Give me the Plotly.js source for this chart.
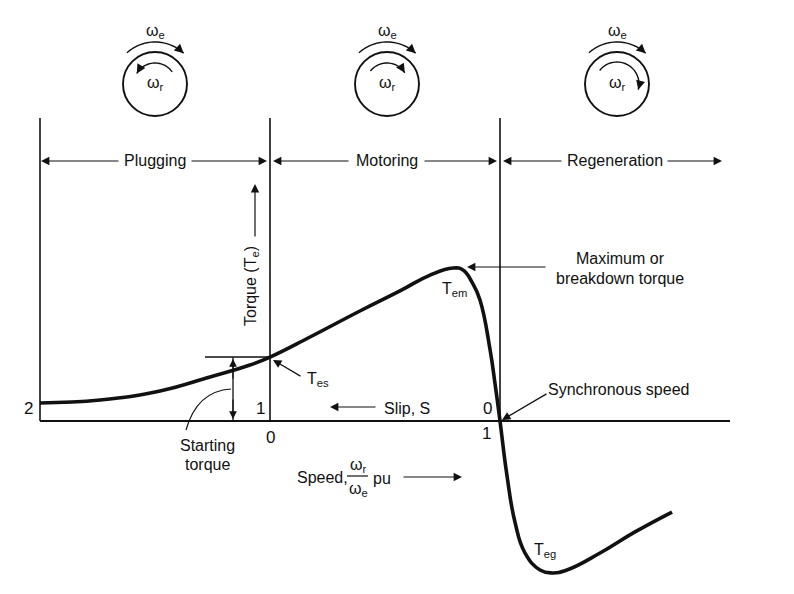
<!DOCTYPE html>
<html><head><meta charset="utf-8">
<script src="https://cdn.plot.ly/plotly-3.0.1.min.js"></script>
<style>html,body{margin:0;padding:0;background:#fff}</style>
</head><body><div id="chart" style="width:794px;height:594px"></div>
<script>
// ---- data (speed in pu, torque normalised to breakdown torque) ----
const speedPu  = [-1.0, -0.739, -0.478, -0.261, -0.087, 0.0, 0.174, 0.391, 0.565, 0.696, 0.796, 0.839, 0.878, 0.913, 0.957, 0.978, 1.0, 1.030, 1.065, 1.109, 1.174, 1.226, 1.291, 1.435, 1.587, 1.748];
const torquePu = [0.118, 0.137, 0.196, 0.288, 0.366, 0.418, 0.549, 0.719, 0.850, 0.954, 1.000, 0.987, 0.908, 0.791, 0.464, 0.248, 0.0, -0.353, -0.660, -0.863, -0.974, -0.993, -0.974, -0.863, -0.725, -0.595];
const slipTickSpeeds  = [-1, 0, 1];
const slipTickLabels  = ['2', '1', '0'];
const speedTickSpeeds = [0, 1];
const speedTickLabels = ['0', '1'];
const regionNames = ['Plugging', 'Motoring', 'Regeneration'];

// pixel -> data helpers for decorations
const X = px => (px - 270) / 230;
const Y = py => (421 - py) / 153;

const FONT = {family: 'Liberation Sans, Arial, sans-serif', size: 16, color: '#111'};
const INK = '#111';

const shapes = [];
const annotations = [];

function line(x0, y0, x1, y1, w) {
  shapes.push({type: 'line', xref: 'x', yref: 'y', x0: X(x0), y0: Y(y0), x1: X(x1), y1: Y(y1), line: {color: INK, width: w || 1.5}});
}
function arrow(hx, hy, tx, ty, opts) {
  annotations.push(Object.assign({x: X(hx), y: Y(hy), ax: X(tx), ay: Y(ty), xref: 'x', yref: 'y', axref: 'x', ayref: 'y',
    text: '', showarrow: true, arrowhead: 2, arrowsize: 1.4, arrowwidth: 1.2, arrowcolor: INK, standoff: 0, startstandoff: 0}, opts || {}));
}
function label(px, py, txt, opts) {
  annotations.push(Object.assign({x: X(px), y: Y(py), xref: 'x', yref: 'y', text: txt, showarrow: false, font: FONT,
    xanchor: 'center', yanchor: 'middle'}, opts || {}));
}
function arc(cx, cy, r, a0, a1) {
  const n = 30; let d = '';
  for (let i = 0; i <= n; i++) {
    const a = (a0 + (a1 - a0) * i / n) * Math.PI / 180;
    const px = cx + r * Math.cos(a), py = cy - r * Math.sin(a);
    d += (i ? ' L ' : 'M ') + X(px) + ' ' + Y(py);
  }
  shapes.push({type: 'path', xref: 'x', yref: 'y', path: d, line: {color: INK, width: 1.4}});
  const a = a1 * Math.PI / 180;
  const ex = cx + r * Math.cos(a), ey = cy - r * Math.sin(a);
  const dir = a1 < a0 ? 1 : -1; // clockwise -> +1
  const tx = dir * Math.sin(a), ty = dir * Math.cos(a);
  arrow(ex, ey, ex - 7 * tx, ey - 7 * ty, {arrowsize: 1.4, arrowwidth: 1.3});
}

// frame lines
[-1, 0, 1].forEach(s => line(270 + 230 * s, 118, 270 + 230 * s, 421, 1.6));
line(40, 421, 730, 421, 2.2);

// region arrows
const regionCenters = [155, 387, 615];
const regionSegs = [[41, 120, 190, 267], [273, 350, 423, 497], [503, 563, 666, 722]];
regionNames.forEach((n, i) => {
  const s = regionSegs[i];
  label(regionCenters[i], 160, n);
  arrow(s[0], 161, s[1], 161);
  arrow(s[3], 161, s[2], 161);
});

// tick labels
const tickFont = Object.assign({}, FONT, {size: 17});
slipTickSpeeds.forEach((s, i) => {
  const offs = [-12, -10, -13][i];
  label(270 + 230 * s + offs, 408, slipTickLabels[i], {font: tickFont});
});
speedTickSpeeds.forEach((s, i) => {
  const offs = [0, -14][i];
  label(270 + 230 * s + offs, [437, 433][i], speedTickLabels[i], {font: tickFont});
});

// rotor / field rotation icons
const iconX = [155, 387, 617];
iconX.forEach(cx => {
  shapes.push({type: 'circle', xref: 'x', yref: 'y', x0: X(cx - 32), x1: X(cx + 32), y0: Y(84 + 32), y1: Y(84 - 32), line: {color: INK, width: 1.9}});
  arc(cx, 84, 42, 132, 47);
  label(cx, 31, 'ω<sub>e</sub>');
  label(cx, 83, 'ω<sub>r</sub>');
});
arc(155, 84, 21, 35, 150);
arc(387, 84, 21, 142, 32);
arc(617, 84, 22, 142, -15);

// starting torque marker
line(205, 357, 268, 357, 1.3);
line(233, 357, 233, 421, 1.3);
arrow(233, 359, 233, 380, {arrowsize: 1.3});
arrow(233, 419, 233, 398, {arrowsize: 1.3});
shapes.push({type: 'path', xref: 'x', yref: 'y', path: 'M ' + X(231) + ' ' + Y(389) + ' Q ' + X(197) + ' ' + Y(391) + ' ' + X(186) + ' ' + Y(430), line: {color: INK, width: 1.2}});
label(207, 445, 'Starting');
label(207, 464, 'torque');

// torque axis label
label(251, 286, 'Torque (T<sub>e</sub>)', {textangle: -90});
arrow(255, 184, 255, 238);

// Tes
label(318, 379, 'T<sub>es</sub>');
arrow(273, 360, 302, 377);

// Tem / breakdown
label(454, 289, 'T<sub>em</sub>');
arrow(467, 267, 547, 267);
label(620, 258, 'Maximum or');
label(620, 278, 'breakdown torque');

// slip label
label(407, 408, 'Slip, S');
arrow(330, 407, 377, 407);

// synchronous speed
label(618, 389, 'Synchronous speed');
arrow(502, 420, 548, 393);

// speed label
label(322, 477, 'Speed,');
label(358, 465, 'ω<sub>r</sub>');
line(347, 476, 368, 476, 1.2);
label(358, 489, 'ω<sub>e</sub>');
label(382, 478, 'pu');
arrow(462, 477, 402, 477);

// Teg
label(545, 550, 'T<sub>eg</sub>');

const trace = {
  x: speedPu, y: torquePu, type: 'scatter', mode: 'lines',
  line: {color: INK, width: 3.6, shape: 'spline', smoothing: 1.3},
  hoverinfo: 'skip'
};

const layout = {
  width: 794, height: 594,
  margin: {l: 0, r: 0, t: 0, b: 0},
  paper_bgcolor: '#fff', plot_bgcolor: '#fff',
  showlegend: false,
  xaxis: {range: [X(0), X(794)], visible: false, fixedrange: true},
  yaxis: {range: [Y(594), Y(0)], visible: false, fixedrange: true},
  shapes: shapes,
  annotations: annotations
};

Plotly.newPlot('chart', [trace], layout, {displayModeBar: false, staticPlot: true});
</script>
</body></html>
